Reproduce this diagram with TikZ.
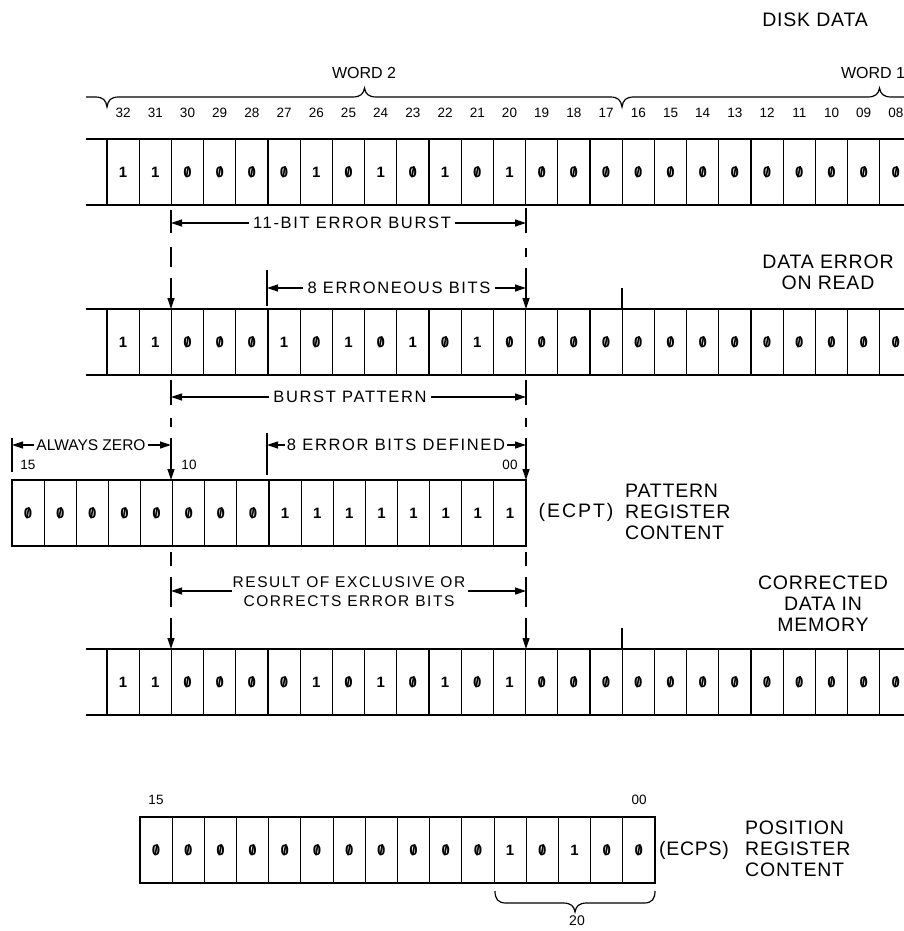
\documentclass[tikz,border=0pt]{standalone}
\usepackage{fontspec}
\setmainfont{Liberation Sans}
\newfontfamily\lsp{Liberation Sans}[LetterSpace=10]
\newfontfamily\lspb{Liberation Sans}[LetterSpace=4]
\usetikzlibrary{arrows.meta}
\newcommand\slz{\ooalign{\hfil0\hfil\cr\hfil/\hfil\cr}}
\newcommand\bv[1]{\ifnum#1=0 \slz\else 1\fi}
\newcommand\bitrow[3]{%
  \draw[rowln] (86,#1) -- (904,#1) (86,{#1+66}) -- (904,{#1+66});
  \foreach \k in {0,...,25} \draw[cellln] ({107+\k*32.2},#1) -- ({107+\k*32.2},{#1+66});
  \foreach \v [count=\i from 0] in {#3} \node[dig] (#2-\i) at ({107+(\i+0.5)*32.2},{#1+33}) {\bv{\v}};
}
\newcommand\bitbox[5]{%
  \draw[boxln] (#1,#2) rectangle ({#1+16*#3},{#2+66});
  \foreach \k in {1,...,15} \draw[cellln] ({#1+\k*#3},#2) -- ({#1+\k*#3},{#2+66});
  \foreach \v [count=\i from 0] in {#5} \node[dig] (#4-\i) at ({#1+(\i+0.5)*#3},{#2+33}) {\bv{\v}};
}
\begin{document}
\begin{tikzpicture}[x=1pt,y=-1pt,
  rowln/.style={line width=2.3pt},
  cellln/.style={line width=1.1pt},
  boxln/.style={line width=2.3pt},
  dimln/.style={line width=1.2pt},
  braceln/.style={line width=1.2pt},
  arr/.style={dimln,-{Triangle[length=11pt,width=7pt]}},
  dig/.style={font=\fontsize{15}{15}\selectfont\bfseries,inner sep=0pt},
  num/.style={font=\fontsize{13.5}{13.5}\selectfont,inner sep=0pt},
  dimtxt/.style={font=\lsp\fontsize{16.5}{19}\selectfont,inner sep=0pt,inner xsep=4pt,align=center},
  bigtxt/.style={font=\lspb\fontsize{19.5}{21}\selectfont,inner sep=0pt,align=center},
]
\useasboundingbox (0,0) rectangle (904,931);
\clip (0,0) rectangle (904,931);

% ---- top labels and braces
\node[bigtxt] (disk) at (815,20) {DISK DATA};
\node[font=\fontsize{16}{16}\selectfont,inner sep=0pt] (w2) at (364,73) {WORD 2};
\node[font=\fontsize{16}{16}\selectfont,inner sep=0pt] (w1) at (873,73) {WORD 1};
\draw[braceln] (86,97) -- (95,97) .. controls (103,97) and (106,100) .. (107,107)
  .. controls (108,100) and (111,97) .. (119,97) -- (352.5,97)
  .. controls (360.5,97) and (363.5,94) .. (364.5,88)
  .. controls (365.5,94) and (368.5,97) .. (376.5,97) -- (610,97)
  .. controls (618,97) and (621,100) .. (622,107)
  .. controls (623,100) and (626,97) .. (634,97) -- (867.5,97)
  .. controls (875.5,97) and (878.5,94) .. (879.5,88)
  .. controls (880.5,94) and (883.5,97) .. (891.5,97) -- (904,97);
\foreach \i in {0,...,24}{\pgfmathtruncatemacro\b{32-\i}\node[num] (h\i) at ({107+(\i+0.5)*32.2},113) {\ifnum\b<10 0\fi\b};}

% ---- rows
\bitrow{139}{ra}{1,1,0,0,0,0,1,0,1,0,1,0,1,0,0,0,0,0,0,0,0,0,0,0,0}
\bitrow{309}{rb}{1,1,0,0,0,1,0,1,0,1,0,1,0,0,0,0,0,0,0,0,0,0,0,0,0}
\bitrow{649}{rd}{1,1,0,0,0,0,1,0,1,0,1,0,1,0,0,0,0,0,0,0,0,0,0,0,0}
\bitbox{12}{480}{32.125}{rc}{0,0,0,0,0,0,0,0,1,1,1,1,1,1,1,1}
\bitbox{140}{817}{32.1875}{re}{0,0,0,0,0,0,0,0,0,0,0,1,0,1,0,0}

% word boundary ticks
\coordinate (wbB) at (622,309); \coordinate (wbD) at (622,649);
\draw[cellln] (622,288) -- (wbB);
\draw[cellln] (622,628) -- (wbD);

% ---- row labels
\node[bigtxt] (err) at (828,272) {DATA ERROR\\ON READ};
\node[bigtxt,font=\lsp\fontsize{19.5}{21}\selectfont] (ecpt) at (576,512) {(ECPT)};
\node[bigtxt,anchor=west,align=left] (patt) at (625,512) {PATTERN\\REGISTER\\CONTENT};
\node[bigtxt] (corr) at (823,604) {CORRECTED\\DATA IN\\MEMORY};
\node[bigtxt] (ecps) at (694,850) {(ECPS)};
\node[bigtxt,anchor=west,align=left] (pos) at (745,849) {POSITION\\REGISTER\\CONTENT};

% register bit numbers
\node[num] (c15) at (28,465) {15};
\node[num] (c10) at (189,465) {10};
\node[num] (c00) at (510,465) {00};
\node[num] (e15) at (156,800) {15};
\node[num] (e00) at (639,800) {00};

% ---- between row 1 and row 2
\node[dimtxt] (t1) at (352,223) {11-BIT ERROR BURST};
\coordinate (t1L) at (171,223); \coordinate (t1R) at (526,223);
\draw[arr] (t1) -- (t1L); \draw[arr] (t1) -- (t1R);
\draw[dimln] (171,210) -- (171,233) (171,247) -- (171,267);
\draw[dimln] (526,208) -- (526,233) (526,248) -- (526,257);
\coordinate (d1L) at (171,278); \coordinate (b2L) at (171,309);
\coordinate (d1R) at (526,268); \coordinate (b2R) at (526,309);
\draw[arr] (d1L) -- (b2L); \draw[arr] (d1R) -- (b2R);
\node[dimtxt] (t2) at (399,288) {8 ERRONEOUS BITS};
\coordinate (t2L) at (267,288); \coordinate (t2R) at (526,288);
\draw[dimln] (267,270) -- (267,306);
\draw[arr] (t2) -- (t2L); \draw[arr] (t2) -- (t2R);

% ---- between row 2 and row 3
\node[dimtxt] (t3) at (350,397) {BURST PATTERN};
\coordinate (t3L) at (171,397); \coordinate (t3R) at (526,397);
\draw[arr] (t3) -- (t3L); \draw[arr] (t3) -- (t3R);
\draw[dimln] (171,380) -- (171,405) (171,418) -- (171,427);
\draw[dimln] (526,380) -- (526,405) (526,418) -- (526,427);
\coordinate (d2L) at (171,438); \coordinate (b3L) at (171,480);
\coordinate (d2R) at (526,438); \coordinate (b3R) at (526,480);
\draw[arr] (d2L) -- (b3L); \draw[arr] (d2R) -- (b3R);
\node[font=\fontsize{15.5}{15.5}\selectfont,inner sep=0pt,inner xsep=2pt] (t4) at (91,445) {ALWAYS ZERO};
\coordinate (t4L) at (12,445); \coordinate (t4R) at (171,445);
\draw[dimln] (12,438) -- (12,472);
\draw[arr] (t4) -- (t4L); \draw[arr] (t4) -- (t4R);
\node[dimtxt,inner xsep=2pt] (t5) at (396,445) {8 ERROR BITS DEFINED};
\coordinate (t5L) at (267,445); \coordinate (t5R) at (526,445);
\draw[dimln] (267,433) -- (267,475);
\draw[arr] (t5) -- (t5L); \draw[arr] (t5) -- (t5R);

% ---- between row 3 and row 4
\node[dimtxt,font=\lsp\fontsize{15.5}{19}\selectfont,inner xsep=1pt] (t6) at (349,592) {RESULT OF EXCLUSIVE OR\\CORRECTS ERROR BITS};
\coordinate (a6L) at (232,591); \coordinate (t6L) at (171,591);
\coordinate (a6R) at (468,591); \coordinate (t6R) at (526,591);
\draw[arr] (a6L) -- (t6L); \draw[arr] (a6R) -- (t6R);
\draw[dimln] (171,552) -- (171,566) (171,577) -- (171,607);
\draw[dimln] (526,552) -- (526,566) (526,577) -- (526,607);
\coordinate (d3L) at (171,618); \coordinate (b4L) at (171,649);
\coordinate (d3R) at (526,618); \coordinate (b4R) at (526,649);
\draw[arr] (d3L) -- (b4L); \draw[arr] (d3R) -- (b4R);

% ---- bottom brace
\draw[braceln] (495,891) .. controls (495,899) and (498,903) .. (506,903) -- (563,903)
  .. controls (571,903) and (574,906) .. (575,912)
  .. controls (576,906) and (579,903) .. (587,903) -- (644,903)
  .. controls (652,903) and (655,899) .. (655,891);
\node[num,font=\fontsize{14}{14}\selectfont] (n20) at (577,921) {20};
\end{tikzpicture}
\end{document}
